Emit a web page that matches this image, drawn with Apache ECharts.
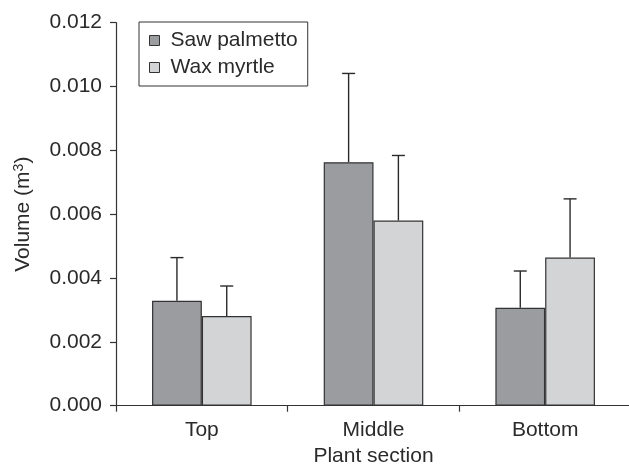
<!DOCTYPE html>
<html>
<head>
<meta charset="utf-8">
<script src="https://cdn.jsdelivr.net/npm/echarts@6/dist/echarts.min.js"></script>
<style>
  html, body { margin: 0; padding: 0; background: #fff; }
  #chart { width: 629px; height: 468px; }
</style>
</head>
<body>
<div id="chart"></div>
<script>
// Plant section volumes (m^3), mean and upper standard error
var categories = ['Top', 'Middle', 'Bottom'];
var sawPalmetto = [0.00329, 0.00763, 0.00307];
var sawPalmettoErr = [0.00135, 0.00278, 0.00115];
var waxMyrtle = [0.00281, 0.00580, 0.00464];
var waxMyrtleErr = [0.00094, 0.00204, 0.00184];
var yTicks = [0, 0.002, 0.004, 0.006, 0.008, 0.010, 0.012];

var FONT = '"Liberation Sans", Arial, sans-serif';
var FS = 21;
var INK = '#2a2a2a';
var BAR_SHARE = 0.29;   // each bar's share of a category band

function errorSeries(name, means, errs, side) {
  var data = means.map(function (m, i) { return [i, m, m + errs[i]]; });
  return {
    type: 'custom',
    name: name + ' error',
    data: data,
    z: 1,
    silent: true,
    renderItem: function (params, api) {
      var band = api.size([1, 0])[0];
      var bw = band * BAR_SHARE;
      var base = api.coord([api.value(0), api.value(1)]);
      var top = api.coord([api.value(0), api.value(2)]);
      var x = base[0] + side * bw / 2;
      var cap = 6.5;
      var style = { stroke: INK, lineWidth: 1.4, fill: null };
      return {
        type: 'group',
        children: [
          { type: 'line', shape: { x1: x, y1: base[1], x2: x, y2: top[1] }, style: style },
          { type: 'line', shape: { x1: x - cap, y1: top[1], x2: x + cap, y2: top[1] }, style: style }
        ]
      };
    }
  };
}

var chart = echarts.init(document.getElementById('chart'), null, { renderer: 'canvas' });
chart.setOption({
  animation: false,
  backgroundColor: '#fff',
  textStyle: { fontFamily: FONT, color: INK },
  grid: { left: 116, right: -2, top: 22.7, bottom: 62.3, containLabel: false, outerBoundsMode: 'none' },
  legend: {
    left: 139, top: 22,
    orient: 'vertical',
    data: ['Saw palmetto', 'Wax myrtle'],
    icon: 'rect',
    itemWidth: 10, itemHeight: 10,
    itemGap: 6,
    padding: [8, 10, 8, 10],
    borderColor: '#333', borderWidth: 1,
    itemStyle: { borderColor: '#333', borderWidth: 1 },
    textStyle: { fontFamily: FONT, fontSize: FS, color: INK, lineHeight: 21, padding: [0, 0, 0, 6] }
  },
  xAxis: {
    type: 'category',
    data: categories,
    name: 'Plant section',
    nameLocation: 'middle',
    nameGap: 38,
    nameTextStyle: { fontFamily: FONT, fontSize: FS, color: INK },
    axisLine: { lineStyle: { color: '#333', width: 1.2 } },
    axisTick: { show: true, length: 6, lineStyle: { color: '#333', width: 1.2 } },
    axisLabel: { fontFamily: FONT, fontSize: FS, color: INK, margin: 14 }
  },
  yAxis: {
    type: 'value',
    min: 0, max: 0.012, interval: 0.002,
    name: 'Volume (m{sup|3})',
    nameLocation: 'middle',
    nameGap: 82,
    nameTextStyle: {
      fontFamily: FONT, fontSize: FS, color: INK,
      rich: { sup: { fontFamily: FONT, fontSize: 14, color: INK, verticalAlign: 'top', padding: [0, 0, 8, 0] } }
    },
    axisLine: { show: true, lineStyle: { color: '#333', width: 1.2 } },
    axisTick: { show: true, length: 6, lineStyle: { color: '#333', width: 1.2 } },
    splitLine: { show: false },
    axisLabel: {
      fontFamily: FONT, fontSize: FS, color: INK, margin: 14,
      formatter: function (v) {
        var t = yTicks.filter(function (k) { return Math.abs(k - v) < 1e-9; });
        return t.length ? t[0].toFixed(3) : '';
      }
    }
  },
  series: [
    {
      type: 'bar', name: 'Saw palmetto', data: sawPalmetto,
      barGap: '0%', barCategoryGap: '42%', z: 2,
      itemStyle: { color: '#9b9ca0', borderColor: '#333', borderWidth: 1.2 }
    },
    {
      type: 'bar', name: 'Wax myrtle', data: waxMyrtle,
      barGap: '0%', barCategoryGap: '42%', z: 2,
      itemStyle: { color: '#d3d4d6', borderColor: '#333', borderWidth: 1.2 }
    },
    errorSeries('Saw palmetto', sawPalmetto, sawPalmettoErr, -1),
    errorSeries('Wax myrtle', waxMyrtle, waxMyrtleErr, 1)
  ]
});
</script>
</body>
</html>
